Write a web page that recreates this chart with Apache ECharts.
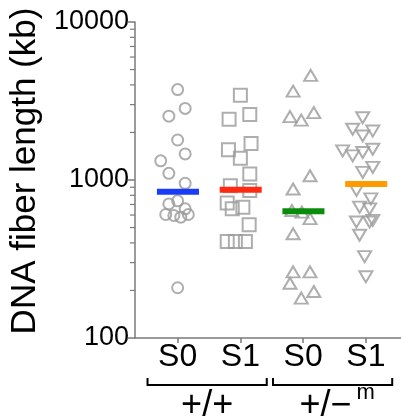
<!DOCTYPE html>
<html><head><meta charset="utf-8">
<script src="https://cdn.jsdelivr.net/npm/echarts@6/dist/echarts.min.js"></script>
<style>html,body{margin:0;padding:0;background:#fff}#c{width:401px;height:417px}</style>
</head><body><div id="c"></div>
<script>
// ---- data ----
const categories = ['S0', 'S1', 'S0', 'S1'];
const categoryPositions = [1, 2, 3, 4];
const groupLabels = ['+/+', '+/\u2212'];
const groupSuperscripts = ['', 'm'];
const groupSpans = [[1, 2], [3, 4]];
const minorTickValues = [200, 300, 400, 500, 600, 700, 800, 900, 2000, 3000, 4000, 5000, 6000, 7000, 8000, 9000];

const wtS0Values = [3733, 2838, 2536, 1791, 1462, 1322, 1102, 953, 738, 706, 657, 605, 596, 582, 605, 208];
const wtS0Jitter = [0, 0.12, -0.14, 0, 0.12, -0.27, -0.14, 0.12, 0, -0.14, 0.12, -0.19, -0.06, 0.05, 0.17, 0];

const wtS1Values = [3442, 2600, 2421, 1703, 1552, 1375, 1091, 921, 857, 716, 673, 657, 521, 408, 408, 408];
const wtS1Jitter = [0, 0.15, -0.18, 0.17, -0.19, 0, 0.15, -0.16, 0.15, -0.21, 0.04, -0.13, 0.14, -0.21, -0.08, 0.08];

const hetS0Values = [4592, 3648, 2668, 2517, 2393, 1064, 877, 641, 626, 570, 457, 262, 262, 222, 197, 179];
const hetS0Jitter = [0.12, -0.16, 0.17, -0.21, -0.03, 0.11, -0.16, -0.18, -0.02, 0.11, -0.16, -0.16, 0.11, -0.21, 0.17, -0.03];

const hetS1Values = [2477, 2094, 2041, 1900, 1566, 1527, 1493, 1422, 1202, 1117, 860, 760, 673, 657, 542, 542, 555, 447, 327, 244];
const hetS1Jitter = [-0.05, -0.21, 0.11, -0.05, 0.11, -0.37, -0.05, -0.21, 0.11, -0.05, -0.15, 0.08, -0.1, 0.06, -0.15, 0.06, 0.11, -0.1, -0.02, 0];

const meanValues = [844, 869, 635, 944];
const meanColors = ['#1a3cf5', '#ff2a10', '#0a8c0a', '#ff9a00'];

// ---- chart ----
const FONT = 'Liberation Sans, Arial, Helvetica, sans-serif';
const GREY = '#9a9a9a';
const AXIS = '#7a7a7a';
const X_MIN = 0.32, X_MAX = 4.56;

function pts(pos, vals, jit) { return vals.map((v, i) => [pos + jit[i], v]); }

const markerStyle = { color: 'rgba(0,0,0,0)', borderColor: GREY, borderWidth: 2 };

const chart = echarts.init(document.getElementById('c'), null, { renderer: 'canvas' });
chart.setOption({
  animation: false,
  backgroundColor: '#fff',
  grid: { left: 134, right: 0, top: 22, bottom: 79, containLabel: false },
  xAxis: {
    type: 'value', min: X_MIN, max: X_MAX,
    splitLine: { show: false },
    axisLine: { show: true, lineStyle: { color: AXIS, width: 1.5 } },
    axisTick: { show: true, length: 5, lineStyle: { color: AXIS, width: 1.5 }, customValues: categoryPositions },
    axisLabel: {
      customValues: categoryPositions, margin: 3,
      fontSize: 32, color: '#000', fontFamily: FONT,
      formatter: v => categories[categoryPositions.indexOf(Math.round(v))] || ''
    }
  },
  yAxis: {
    type: 'log', min: 100, max: 10000, logBase: 10,
    name: 'DNA fiber length (kb)', nameLocation: 'middle', nameGap: 85,
    nameTextStyle: { fontSize: 35, color: '#000', fontFamily: FONT, padding: [0, 0, 0, 18] },
    splitLine: { show: false },
    axisLine: { show: true, lineStyle: { color: AXIS, width: 1.5 } },
    axisTick: { show: true, length: 7, lineStyle: { color: AXIS, width: 1.5 } },
    axisLabel: { fontSize: 27, color: '#000', fontFamily: FONT, margin: 6, formatter: v => String(Math.round(v)) }
  },
  series: [
    { type: 'scatter', symbol: 'circle', symbolSize: 11, itemStyle: markerStyle, data: pts(1, wtS0Values, wtS0Jitter), z: 2 },
    { type: 'scatter', symbol: 'rect', symbolSize: 13, itemStyle: markerStyle, data: pts(2, wtS1Values, wtS1Jitter), z: 2 },
    { type: 'scatter', symbol: 'triangle', symbolSize: [13, 11], itemStyle: markerStyle, data: pts(3, hetS0Values, hetS0Jitter), z: 2 },
    { type: 'scatter', symbol: 'triangle', symbolRotate: 180, symbolSize: [13, 11], itemStyle: markerStyle, data: pts(4, hetS1Values, hetS1Jitter), z: 2 },
    {
      type: 'custom', z: 5, clip: false,
      data: categoryPositions.map((p, i) => [p, meanValues[i]]),
      renderItem: (params, api) => {
        const x = api.value(0), y = api.value(1);
        const l = api.coord([x - 0.33, y]), r = api.coord([x + 0.34, y]);
        return { type: 'rect', shape: { x: l[0], y: l[1] - 3, width: r[0] - l[0], height: 6 },
                 style: { fill: meanColors[params.dataIndex] } };
      }
    },
    {
      type: 'custom', z: 10, clip: false, silent: true,
      data: minorTickValues.map(v => [1, v]),
      renderItem: (params, api) => {
        const p = api.coord([X_MIN, api.value(1)]);
        return { type: 'rect', shape: { x: p[0] - 5, y: p[1] - 0.6, width: 5, height: 1.2 },
                 style: { fill: AXIS } };
      }
    },
    {
      type: 'custom', z: 1, clip: false, silent: true,
      data: groupSpans.map(s => [s[0], s[1]]),
      renderItem: (params, api) => {
        const a = api.value(0), b = api.value(1);
        const base = api.coord([a, 100])[1];
        const l = api.coord([a - 0.48, 100])[0];
        const r = api.coord([b + 0.42, 100])[0];
        const yl = base + 47, yt = base + 40;
        const cx = (l + r) / 2;
        const i = params.dataIndex;
        const children = [
          { type: 'polyline', shape: { points: [[l, yt], [l, yl], [r, yl], [r, yt]] },
            style: { stroke: '#000', lineWidth: 2, fill: null } }
        ];
        const main = groupLabels[i], sup = groupSuperscripts[i];
        if (sup) {
          children.push({ type: 'text', style: { text: main, x: cx - 7, y: base + 86, align: 'center', verticalAlign: 'bottom',
            font: '36px ' + FONT, fill: '#000' } });
          children.push({ type: 'text', style: { text: sup, x: cx + 24, y: base + 66, align: 'left', verticalAlign: 'bottom',
            font: '22px ' + FONT, fill: '#000' } });
        } else {
          children.push({ type: 'text', style: { text: main, x: cx, y: base + 86, align: 'center', verticalAlign: 'bottom',
            font: '36px ' + FONT, fill: '#000' } });
        }
        return { type: 'group', children };
      }
    }
  ]
});
</script>
</body></html>
